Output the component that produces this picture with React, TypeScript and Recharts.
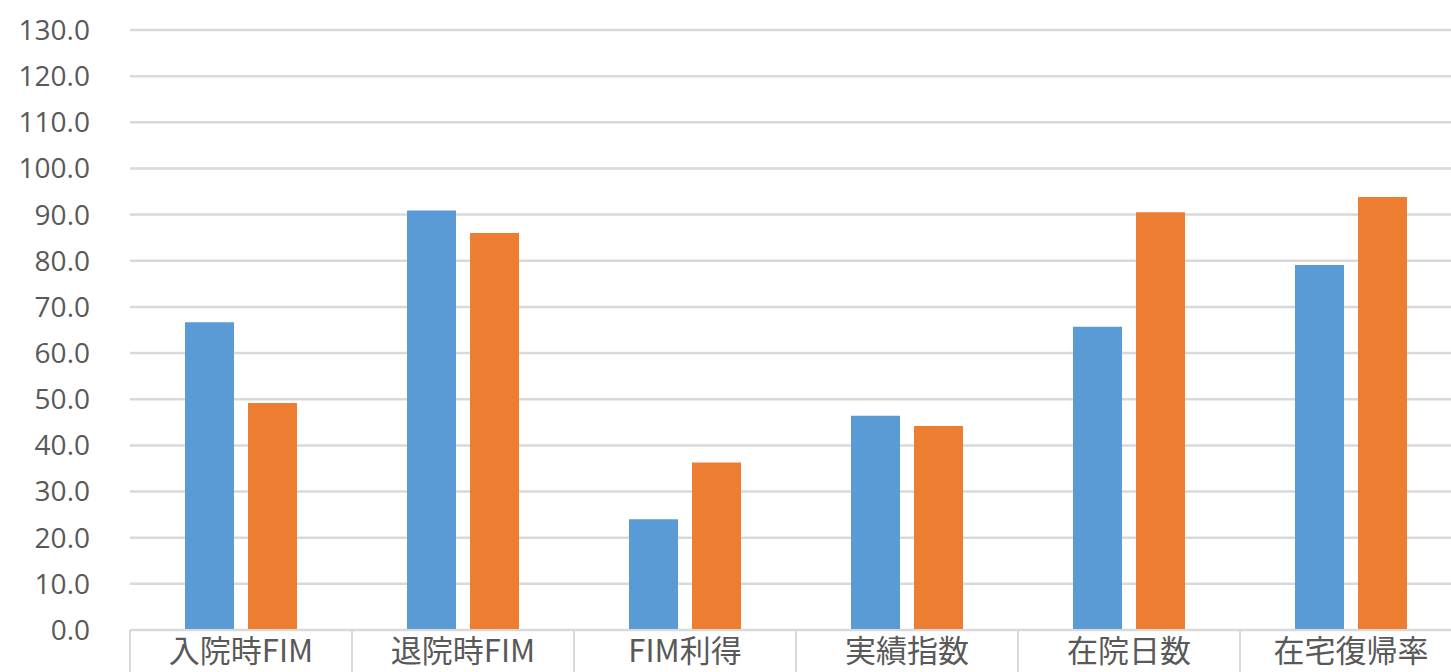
import React from "react";
import { BarChart, Bar, XAxis, YAxis, CartesianGrid } from "recharts";

// 項目とシリーズ値
const categories = ["入院時FIM", "退院時FIM", "FIM利得", "実績指数", "在院日数", "在宅復帰率"];
const seriesA = [66.7, 90.9, 24.0, 46.4, 65.7, 79.1];
const seriesB = [49.2, 86.0, 36.3, 44.2, 90.5, 93.8];
const yTicks = [0, 10, 20, 30, 40, 50, 60, 70, 80, 90, 100, 110, 120, 130];

const W = 1462;
const H = 672;
const TOP = 30;
const X_AXIS_H = 42;
const Y_AXIS_W = 130;
const PLOT_BOTTOM = H - X_AXIS_H;
const BAND = (W - Y_AXIS_W) / categories.length;

const data = categories.map((name, i) => ({ name, a: seriesA[i], b: seriesB[i] }));

const XTick = (props: any) => {
  const { x, payload } = props;
  const half = payload && payload.offset ? payload.offset : BAND / 2;
  return (
    <g>
      <line x1={x - half} y1={PLOT_BOTTOM} x2={x - half} y2={H} stroke="#d9d9d9" strokeWidth={2} />
      <line x1={x + half} y1={PLOT_BOTTOM} x2={x + half} y2={H} stroke="#d9d9d9" strokeWidth={2} />
      <text
        x={x}
        y={PLOT_BOTTOM + 32}
        textAnchor="middle"
        fill="#595959"
        fontSize={31}
        fontFamily="'Noto Sans CJK JP', 'Noto Sans', sans-serif"
      >
        {payload.value}
      </text>
    </g>
  );
};

export default function App() {
  return (
    <div style={{ position: "absolute", left: 0, top: 0, width: 1451, height: H, overflow: "hidden", background: "#fff" }}>
      <BarChart
        width={W}
        height={H}
        data={data}
        margin={{ top: TOP, right: 0, bottom: 0, left: 0 }}
        barSize={49}
        barGap={14}
      >
        <CartesianGrid vertical={false} stroke="#d9d9d9" strokeWidth={2.5} />
        <XAxis
          dataKey="name"
          height={X_AXIS_H}
          interval={0}
          tickLine={false}
          tickSize={0}
          axisLine={{ stroke: "#d9d9d9", strokeWidth: 2 }}
          tick={<XTick />}
        />
        <YAxis
          width={Y_AXIS_W}
          domain={[0, 130]}
          ticks={yTicks}
          interval={0}
          axisLine={false}
          tickLine={false}
          tickSize={0}
          tickMargin={40}
          tickFormatter={(v: number) => v.toFixed(1)}
          tick={{ fill: "#595959", fontSize: 28, fontFamily: "'Open Sans', 'Noto Sans', sans-serif" }}
        />
        <Bar dataKey="a" fill="#5b9bd5" isAnimationActive={false} />
        <Bar dataKey="b" fill="#ed7d31" isAnimationActive={false} />
      </BarChart>
    </div>
  );
}
